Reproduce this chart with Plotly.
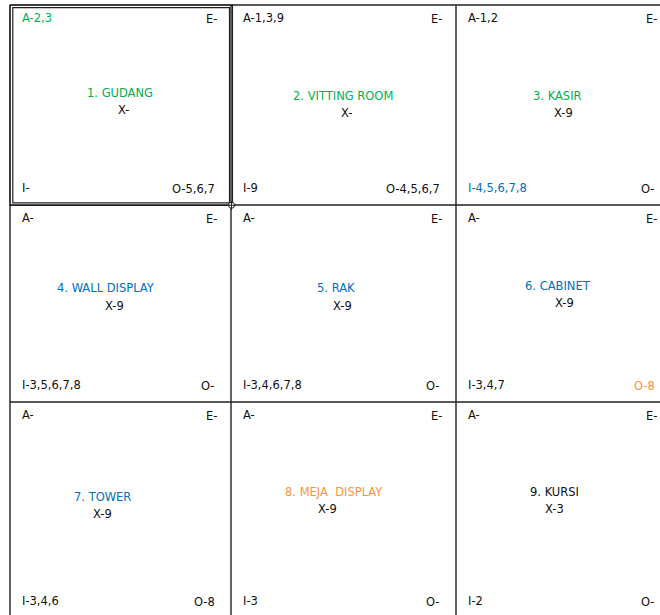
import plotly.graph_objects as go

# ---------------- data ----------------
names = ["1. GUDANG", "2. VITTING ROOM", "3. KASIR",
         "4. WALL DISPLAY", "5. RAK", "6. CABINET",
         "7. TOWER", "8. MEJA  DISPLAY", "9. KURSI"]
a_rel = ["2,3", "1,3,9", "1,2", "", "", "", "", "", ""]
e_rel = ["", "", "", "", "", "", "", "", ""]
i_rel = ["", "9", "4,5,6,7,8", "3,5,6,7,8", "3,4,6,7,8", "3,4,7", "3,4,6", "3", "2"]
o_rel = ["5,6,7", "4,5,6,7", "", "", "", "8", "8", "", ""]
x_rel = ["", "", "9", "9", "9", "9", "9", "9", "3"]

# ---------------- styles ----------------
GREEN = "#00B050"
BLUE = "#0070C0"
ORANGE = "#F79646"
INK = "#111111"
name_colors = [GREEN, GREEN, GREEN, BLUE, BLUE, BLUE, BLUE, ORANGE, INK]
# highlighted relation labels: (cell index, code) -> colour
highlight = {(0, "A"): GREEN, (2, "I"): BLUE, (5, "O"): ORANGE}

# ---------------- layout (pixels) ----------------
W, H = 660, 615
col_edges = [10, 231, 456, 671]
row_edges = [5, 205, 402, 618]
# centre of the room name in each cell, relative to the cell's top-left
name_off = [(110, 88), (112, 91), (101, 91),
            (96, 83), (105, 83), (102, 81),
            (92, 95), (103, 90), (98, 90)]
x_off = [(4, 17), (3, 17), (6, 17),
         (8, 18), (6, 18), (6, 17),
         (0, 17), (-7, 17), (0, 17)]

FONT = "DejaVu Sans"
FS = 11.5

fig = go.Figure()
shapes = []
ann = []

line = dict(color="#222222", width=1.4)
for x in col_edges:
    shapes.append(dict(type="line", xref="x", yref="y", x0=x, x1=x,
                       y0=row_edges[0], y1=row_edges[-1], line=line))
for y in row_edges:
    shapes.append(dict(type="line", xref="x", yref="y", x0=col_edges[0], x1=col_edges[-1],
                       y0=y, y1=y, line=line))
# double border of the selected first cell
shapes.append(dict(type="rect", xref="x", yref="y", x0=12.8, x1=229.5, y0=7.6, y1=202.8,
                   line=dict(color="#222222", width=1.2)))
shapes.append(dict(type="rect", xref="x", yref="y", x0=10, x1=232.5, y0=5, y1=205.3,
                   line=dict(color="#222222", width=1.2)))
# small handle at the corner
shapes.append(dict(type="circle", xref="x", yref="y", x0=228.5, x1=234.5, y0=202.3, y1=208.3,
                   line=dict(color="#222222", width=1), fillcolor="white"))
shapes.append(dict(type="line", xref="x", yref="y", x0=227, x1=236, y0=205.3, y1=205.3,
                   line=dict(color="#222222", width=1)))
shapes.append(dict(type="line", xref="x", yref="y", x0=231.5, x1=231.5, y0=201, y1=210,
                   line=dict(color="#222222", width=1)))


def add(text, x, y, color, xanchor):
    ann.append(dict(text=text, x=x / W, y=y, xref="paper", yref="y", showarrow=False,
                    xanchor=xanchor, yanchor="middle",
                    font=dict(family=FONT, size=FS, color=color)))


for k in range(9):
    r, c = divmod(k, 3)
    L, R = col_edges[c], col_edges[c + 1]
    T, B = row_edges[r], row_edges[r + 1]
    add("A-" + a_rel[k], L + 10, T + 13, highlight.get((k, "A"), INK), "left")
    add("E-" + e_rel[k], R - 12, T + 14, highlight.get((k, "E"), INK), "right")
    add("I-" + i_rel[k], L + 10, B - 17, highlight.get((k, "I"), INK), "left")
    add("O-" + o_rel[k], R - 14, B - 16, highlight.get((k, "O"), INK), "right")
    nx, ny = name_off[k]
    add(names[k], L + nx, T + ny, name_colors[k], "center")
    dx, dy = x_off[k]
    add("X-" + x_rel[k], L + nx + dx, T + ny + dy, INK, "center")

fig.update_layout(
    width=W, height=H,
    margin=dict(l=0, r=0, t=0, b=0),
    paper_bgcolor="white", plot_bgcolor="white",
    xaxis=dict(range=[0, W], visible=False, fixedrange=True),
    yaxis=dict(range=[H, 0], visible=False, fixedrange=True),
    shapes=shapes, annotations=ann, showlegend=False,
)

fig.write_html("out.html", config={"displayModeBar": False},
               post_script="document.body.style.margin='0';document.body.style.overflow='hidden';")
